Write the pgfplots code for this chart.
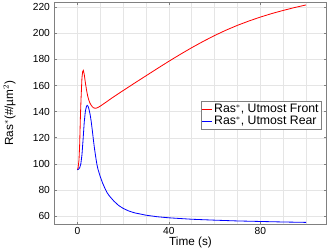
\documentclass[border=0pt]{standalone}
\usepackage{pgfplots}
\pgfplotsset{compat=1.18}
\usepackage{fontspec}
\setmainfont{Liberation Sans}
\begin{document}
\begin{tikzpicture}
\begin{axis}[
  scale only axis,
  width=265bp, height=216bp,
  xmin=-10, xmax=109, ymin=54, ymax=223.6,
  xtick={0,40,80},
  minor xtick={-10,10,20,30,50,60,70,90,100},
  ytick={60,80,...,220},
  grid=both,
  major grid style={draw=black!10, line width=0.5pt},
  minor grid style={draw=black!10, line width=0.5pt},
  axis line style={draw=black!50, line width=0.8pt},
  tick style={draw=black!50, line width=0.6pt},
  major tick length=2.5pt,
  minor tick length=0pt,
  tick align=inside,
  xtick pos=both, ytick pos=both,
  /pgf/number format/assume math mode=true,
  tick label style={font=\fontsize{10}{12}\selectfont},
  yticklabel style={xshift=-1pt},
  label style={font=\fontsize{11.5}{13}\selectfont},
  xlabel={Time (s)},
  ylabel={Ras$^{*}$(\#/µm$^{2}$)},
  xlabel style={yshift=5pt},
  ylabel style={yshift=10pt},
  legend style={at={(0.983,0.49)}, anchor=east, draw=black!50, line width=0.6pt,
    font=\fontsize{12}{14}\selectfont, inner sep=1pt, row sep=-2pt,
    legend cell align=left},
  legend image post style={line width=0.8pt},
  legend image code/.code={\draw[#1] (0cm,0cm) -- (0.32cm,0cm);},
]
\addplot[red, line width=0.8pt] coordinates {
(0,95.5)(0.3,97)(0.7,103)(1,115)(1.3,135)(1.6,150)(2,166)(2.3,170.5)(2.6,171.5)(3,168.5)(3.5,162)(4,156.5)(4.5,152)(5,148.8)(5.5,146.5)(6,145)(6.5,143.8)(7,143)(7.5,142.7)(8,142.6)(8.5,142.8)(9,143.2)(10,144.2)(12.5,147.2)(15,150.3)(20,156.1)(25,161.8)(30,167.4)(35,173)(40,178.5)(45,183.8)(50,188.9)(55,193.7)(60,198.2)(65,202.3)(70,206)(75,209.3)(80,212.3)(85,215)(90,217.4)(95,219.6)(100,221.6)
};
\addlegendentry{Ras$^{*}$, Utmost Front}
\addplot[blue, line width=0.8pt] coordinates {
(0,95.5)(0.5,96)(1,97)(1.5,100)(2,107)(2.5,119)(3,132)(3.5,140.5)(4,144.2)(4.3,144.8)(4.7,144)(5,142.3)(5.5,138.5)(6,133)(6.5,126)(7,118.5)(7.5,111.5)(8,105.5)(8.5,100)(9,96)(10,90.3)(11,85.5)(12,81.5)(13,78)(14,75.5)(16,71.5)(18,68.3)(20,66)(22.5,64)(25,62.6)(30,60.8)(35,59.6)(40,58.8)(50,57.7)(60,57)(70,56.4)(80,56)(90,55.6)(100,55.3)
};
\addlegendentry{Ras$^{*}$, Utmost Rear}
\end{axis}
\end{tikzpicture}
\end{document}
